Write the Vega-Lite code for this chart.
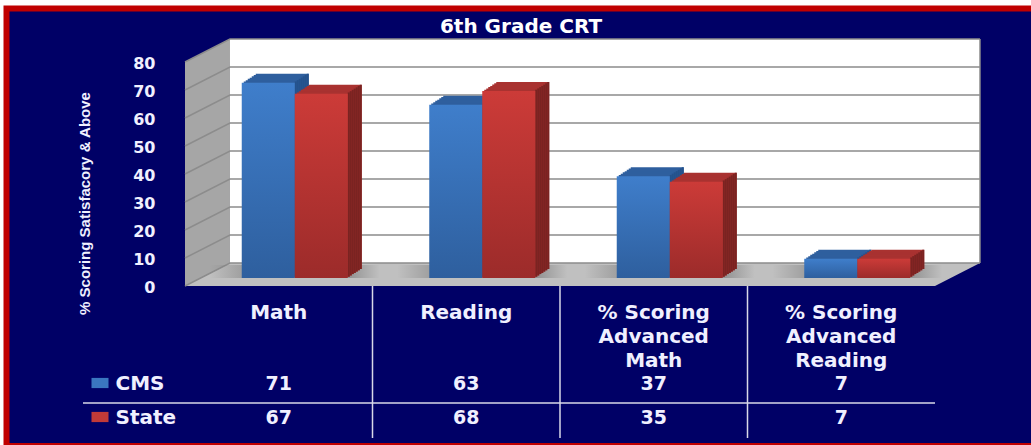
{"$schema":"https://vega.github.io/schema/vega-lite/v6.json","width":750,"height":224,"autosize":"none","padding":{"left":185,"top":62,"right":96,"bottom":159},"background":"#ffffff","config":{"view":{"stroke":null}},
"datasets":{
"scores":[{"category":"Math","series":"CMS","value":71},{"category":"Math","series":"State","value":67},{"category":"Reading","series":"CMS","value":63},{"category":"Reading","series":"State","value":68},{"category":"% Scoring\nAdvanced\nMath","series":"CMS","value":37},{"category":"% Scoring\nAdvanced\nMath","series":"State","value":35},{"category":"% Scoring\nAdvanced\nReading","series":"CMS","value":7},{"category":"% Scoring\nAdvanced\nReading","series":"State","value":7}],
"walls":[{"part":"side","depth":0,"lo":0,"hi":80},{"part":"side","depth":1,"lo":8.2,"hi":88.2},{"part":"back","depth":1,"lo":8.2,"hi":88.2},{"part":"back","depth":17.67,"lo":8.2,"hi":88.2},{"part":"floor","depth":0,"lo":0,"hi":0},{"part":"floor","depth":1,"lo":0,"hi":8.2},{"part":"floor","depth":16.67,"lo":0,"hi":8.2},{"part":"floor","depth":17.67,"lo":8.2,"hi":8.2}],
"grid":[{"tick":"0","depth":0,"level":0},{"tick":"0","depth":1,"level":8.2},{"tick":"0","depth":17.67,"level":8.2},{"tick":"10","depth":0,"level":10},{"tick":"10","depth":1,"level":18.2},{"tick":"10","depth":17.67,"level":18.2},{"tick":"20","depth":0,"level":20},{"tick":"20","depth":1,"level":28.2},{"tick":"20","depth":17.67,"level":28.2},{"tick":"30","depth":0,"level":30},{"tick":"30","depth":1,"level":38.2},{"tick":"30","depth":17.67,"level":38.2},{"tick":"40","depth":0,"level":40},{"tick":"40","depth":1,"level":48.2},{"tick":"40","depth":17.67,"level":48.2},{"tick":"50","depth":0,"level":50},{"tick":"50","depth":1,"level":58.2},{"tick":"50","depth":17.67,"level":58.2},{"tick":"60","depth":0,"level":60},{"tick":"60","depth":1,"level":68.2},{"tick":"60","depth":17.67,"level":68.2},{"tick":"70","depth":0,"level":70},{"tick":"70","depth":1,"level":78.2},{"tick":"70","depth":17.67,"level":78.2},{"tick":"80","depth":0,"level":80},{"tick":"80","depth":1,"level":88.2},{"tick":"80","depth":17.67,"level":88.2},{"tick":"edge","depth":17.67,"level":8.2},{"tick":"edge","depth":17.67,"level":88.2}]
},
"resolve":{"scale":{"x":"independent","y":"independent","color":"independent"},"axis":{"x":"independent","y":"independent"}},
"layer":[
{"data":{"values":[{"frame":"panel"}]},"mark":{"type":"rect","fill":"#000066","stroke":"#c00000","strokeWidth":6},"encoding":{"x":{"field":"frame","type":"nominal","axis":null,"scale":{"type":"band","domain":["panel"],"range":[-178.5,1000],"padding":0}},"y":{"field":"frame","type":"nominal","axis":null,"scale":{"type":"band","domain":["panel"],"range":[-53.5,384],"padding":0}}}},
{"data":{"values":[{"label":"6th Grade CRT"}]},"mark":{"type":"text","font":"DejaVu Sans","fontWeight":"bold","fontSize":20,"color":"#ffffff"},"encoding":{"text":{"field":"label"},"x":{"field":"label","type":"nominal","axis":null,"scale":{"type":"point","domain":["6th Grade CRT"],"range":[336,336]}},"y":{"field":"label","type":"nominal","axis":null,"scale":{"type":"point","domain":["6th Grade CRT"],"range":[-35,-35]}}}},
{"data":{"name":"walls"},"mark":{"type":"area","interpolate":"linear"},"encoding":{"x":{"field":"depth","type":"quantitative","axis":null,"scale":{"domain":[0,16.67],"range":[0,750],"nice":false,"zero":false}},"y":{"field":"lo","type":"quantitative","scale":{"domain":[0,80],"range":[224,0],"nice":false},"axis":{"zindex":1,"orient":"left","values":[0,10,20,30,40,50,60,70,80],"title":"% Scoring Satisfacory & Above","titleFont":"Liberation Sans","titleFontWeight":"bold","titleFontSize":15,"titleColor":"#f0f0ff","titleX":-93,"titleY":141,"titlePadding":0,"labelFont":"DejaVu Sans","labelFontWeight":"bold","labelFontSize":16,"labelColor":"#f0f0ff","labelPadding":30,"labelOffset":1.5,"domain":false,"ticks":false,"grid":false}},"y2":{"field":"hi"},"color":{"field":"part","type":"nominal","legend":null,"scale":{"domain":["side","back","floor"],"range":["#a6a6a6","#ffffff","#c0c0c0"]}}}},
{"data":{"name":"grid"},"mark":{"type":"line","color":"#8c8c8c","strokeWidth":1.5,"interpolate":"linear"},"encoding":{"x":{"field":"depth","type":"quantitative","axis":null,"scale":{"domain":[0,16.67],"range":[0,750],"nice":false,"zero":false}},"y":{"field":"level","type":"quantitative","scale":{"domain":[0,80],"range":[224,0],"nice":false},"axis":null},"detail":{"field":"tick"}}},
{"data":{"name":"scores"},"transform":[{"filter":"datum.series === 'CMS'"}],"mark":{"type":"bar","color":{"gradient":"linear","x1":0,"y1":0,"x2":1,"y2":0,"stops":[{"offset":0,"color":"rgba(120,120,120,0)"},{"offset":0.3,"color":"rgba(120,120,120,0.7)"},{"offset":0.8,"color":"rgba(120,120,120,0.7)"},{"offset":1,"color":"rgba(120,120,120,0)"}]}},"encoding":{"x":{"field":"category","type":"nominal","axis":null,"sort":null,"scale":{"domain":["Math","Reading","% Scoring\nAdvanced\nMath","% Scoring\nAdvanced\nReading"],"range":[16,766],"paddingInner":0.0933,"paddingOuter":0.0467}},"y":{"datum":1,"type":"quantitative","axis":null,"scale":{"domain":[0,1],"range":[216,203]}},"y2":{"datum":0}}},
{"data":{"name":"scores"},"transform":[{"filter":"datum.series === 'CMS'"}],
"encoding":{"x":{"field":"category","type":"nominal","axis":null,"sort":null,"scale":{"domain":["Math","Reading","% Scoring\nAdvanced\nMath","% Scoring\nAdvanced\nReading"],"range":[-1,749],"paddingInner":0.7173,"paddingOuter":0.35865}},"y":{"field":"value","type":"quantitative","axis":null,"scale":{"domain":[0,80],"range":[216,-4],"nice":false}}},
"layer":[
{"mark":{"type":"bar","xOffset":4.5,"yOffset":-9,"color":"#2f5f9e"}},
{"mark":{"type":"bar","xOffset":2.5,"yOffset":-7.7,"color":"#2f5f9e"}},
{"mark":{"type":"bar","xOffset":0.5,"yOffset":-6.4,"color":"#2f5f9e"}},
{"mark":{"type":"bar","xOffset":-1.5,"yOffset":-5.1,"color":"#2f5f9e"}},
{"mark":{"type":"bar","xOffset":-3.5,"yOffset":-3.9,"color":"#2f5f9e"}},
{"mark":{"type":"bar","xOffset":-5.5,"yOffset":-2.6,"color":"#2f5f9e"}},
{"mark":{"type":"bar","xOffset":-7.5,"yOffset":-1.3,"color":"#2f5f9e"}},
{"mark":{"type":"bar","width":2,"xOffset":30,"yOffset":-9,"color":"#24528c"}},
{"mark":{"type":"bar","width":2,"xOffset":28,"yOffset":-7.7,"color":"#24528c"}},
{"mark":{"type":"bar","width":2,"xOffset":26,"yOffset":-6.4,"color":"#24528c"}},
{"mark":{"type":"bar","width":2,"xOffset":24,"yOffset":-5.1,"color":"#24528c"}},
{"mark":{"type":"bar","width":2,"xOffset":22,"yOffset":-3.9,"color":"#24528c"}},
{"mark":{"type":"bar","width":2,"xOffset":20,"yOffset":-2.6,"color":"#24528c"}},
{"mark":{"type":"bar","width":2,"xOffset":18,"yOffset":-1.3,"color":"#24528c"}},
{"mark":{"type":"bar","xOffset":-9.5,"color":{"gradient":"linear","x1":0,"y1":0,"x2":0,"y2":1,"stops":[{"offset":0,"color":"#3f7ecb"},{"offset":1,"color":"#2e5f9e"}]}}}
]},
{"data":{"name":"scores"},"transform":[{"filter":"datum.series === 'State'"}],
"encoding":{"x":{"field":"category","type":"nominal","axis":null,"sort":null,"scale":{"domain":["Math","Reading","% Scoring\nAdvanced\nMath","% Scoring\nAdvanced\nReading"],"range":[-1,749],"paddingInner":0.7173,"paddingOuter":0.35865}},"y":{"field":"value","type":"quantitative","axis":null,"scale":{"domain":[0,80],"range":[216,-4],"nice":false}}},
"layer":[
{"mark":{"type":"bar","xOffset":57.5,"yOffset":-9,"color":"#a93230"}},
{"mark":{"type":"bar","xOffset":55.5,"yOffset":-7.7,"color":"#a93230"}},
{"mark":{"type":"bar","xOffset":53.5,"yOffset":-6.4,"color":"#a93230"}},
{"mark":{"type":"bar","xOffset":51.5,"yOffset":-5.1,"color":"#a93230"}},
{"mark":{"type":"bar","xOffset":49.5,"yOffset":-3.9,"color":"#a93230"}},
{"mark":{"type":"bar","xOffset":47.5,"yOffset":-2.6,"color":"#a93230"}},
{"mark":{"type":"bar","xOffset":45.5,"yOffset":-1.3,"color":"#a93230"}},
{"mark":{"type":"bar","width":2,"xOffset":83,"yOffset":-9,"color":"#7a2321"}},
{"mark":{"type":"bar","width":2,"xOffset":81,"yOffset":-7.7,"color":"#7a2321"}},
{"mark":{"type":"bar","width":2,"xOffset":79,"yOffset":-6.4,"color":"#7a2321"}},
{"mark":{"type":"bar","width":2,"xOffset":77,"yOffset":-5.1,"color":"#7a2321"}},
{"mark":{"type":"bar","width":2,"xOffset":75,"yOffset":-3.9,"color":"#7a2321"}},
{"mark":{"type":"bar","width":2,"xOffset":73,"yOffset":-2.6,"color":"#7a2321"}},
{"mark":{"type":"bar","width":2,"xOffset":71,"yOffset":-1.3,"color":"#7a2321"}},
{"mark":{"type":"bar","xOffset":43.5,"color":{"gradient":"linear","x1":0,"y1":0,"x2":0,"y2":1,"stops":[{"offset":0,"color":"#cc3b38"},{"offset":1,"color":"#9c2b2a"}]}}}
]},
{"data":{"name":"scores"},"transform":[{"filter":"datum.series === 'CMS'"}],"mark":{"type":"text","font":"DejaVu Sans","fontWeight":"bold","fontSize":20,"color":"#f0f0ff","baseline":"top","lineBreak":"\n","lineHeight":24},"encoding":{"text":{"field":"category"},"x":{"field":"category","type":"nominal","axis":null,"sort":null,"scale":{"type":"band","domain":["Math","Reading","% Scoring\nAdvanced\nMath","% Scoring\nAdvanced\nReading"],"padding":0}},"y":{"datum":0,"type":"quantitative","axis":null,"scale":{"domain":[0,1],"range":[241,300]}}}},
{"data":{"name":"scores"},"mark":{"type":"text","font":"DejaVu Sans","fontWeight":"bold","fontSize":19,"color":"#f0f0ff"},"encoding":{"text":{"field":"value"},"x":{"field":"category","type":"nominal","axis":null,"sort":null,"scale":{"type":"band","domain":["Math","Reading","% Scoring\nAdvanced\nMath","% Scoring\nAdvanced\nReading"],"padding":0}},"y":{"field":"series","type":"nominal","scale":{"type":"band","domain":["CMS","State"],"range":[305,373],"padding":0},"axis":{"zindex":1,"orient":"left","title":null,"domain":false,"ticks":false,"grid":false,"labelAlign":"left","labelPadding":70,"labelFont":"DejaVu Sans","labelFontWeight":"bold","labelFontSize":20,"labelColor":"#f0f0ff"}}}},
{"data":{"values":[{"series":"CMS"},{"series":"State"}]},"mark":{"type":"point","filled":true,"opacity":1,"shape":"M-1,-0.6H1V0.6H-1Z","size":289},"encoding":{"x":{"field":"series","type":"nominal","axis":null,"scale":{"type":"point","domain":["CMS","State"],"range":[-85,-85]}},"y":{"field":"series","type":"nominal","axis":null,"scale":{"type":"band","domain":["CMS","State"],"range":[304,372],"padding":0}},"color":{"field":"series","type":"nominal","legend":null,"scale":{"domain":["CMS","State"],"range":["#3a76c0","#c03a38"]}}}},
{"data":{"values":[{"cut":1},{"cut":2},{"cut":3}]},"mark":{"type":"rule","color":"#d8d8e8","strokeWidth":1.5},"encoding":{"x":{"field":"cut","type":"quantitative","axis":null,"scale":{"domain":[0,4],"range":[0,750]}},"y":{"datum":0,"type":"quantitative","axis":null,"scale":{"domain":[0,1],"range":[224,376]}},"y2":{"datum":1}}},
{"data":{"values":[{"line":"row"}]},"mark":{"type":"rule","color":"#d8d8e8","strokeWidth":1.5},"encoding":{"x":{"datum":0,"type":"quantitative","axis":null,"scale":{"domain":[0,1],"range":[-102,750]}},"x2":{"datum":1},"y":{"datum":0.5,"type":"quantitative","axis":null,"scale":{"domain":[0,1],"range":[300,382]}}}}
]}
